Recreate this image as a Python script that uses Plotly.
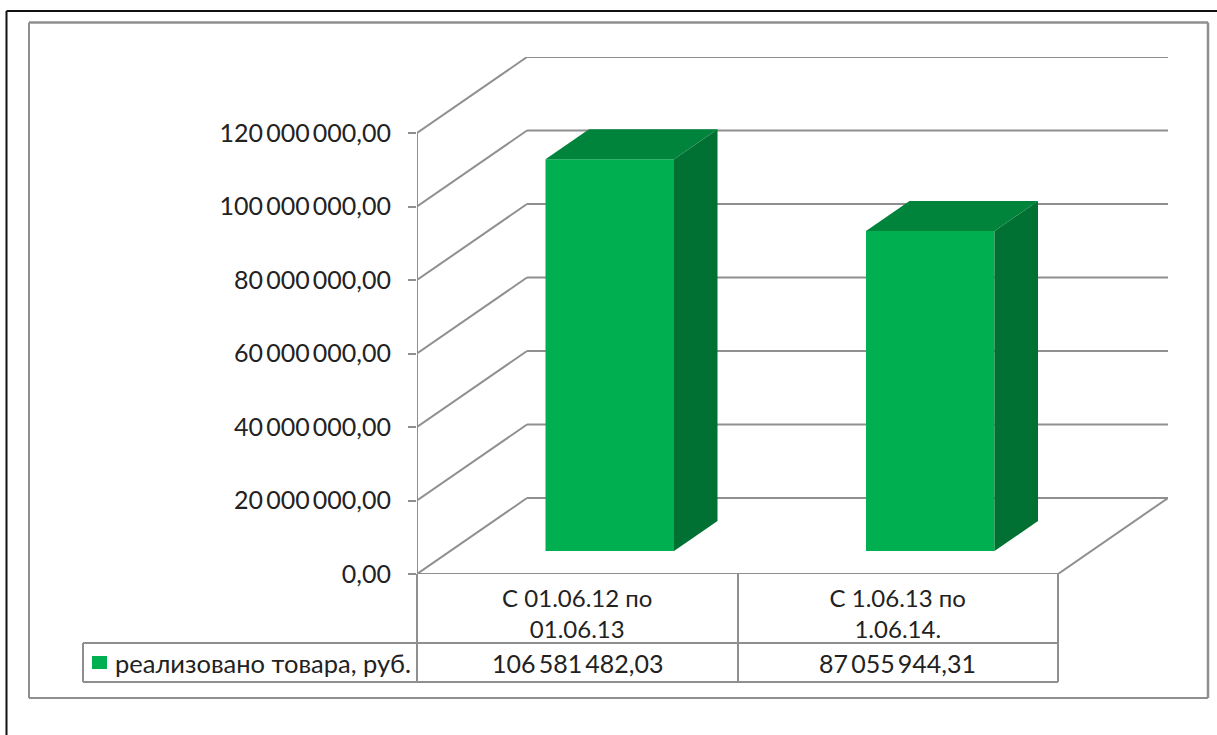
import plotly.graph_objects as go

categories = ["С 01.06.12 по<br>01.06.13", "С 1.06.13 по<br>1.06.14."]
series_name = "реализовано товара, руб."
values = [106581482.03, 87055944.31]
value_labels = ["106\u2009581\u2009482,03", "87\u2009055\u2009944,31"]
tick_values = [0, 20e6, 40e6, 60e6, 80e6, 100e6, 120e6]
tick_labels = ["0,00", "20\u2009000\u2009000,00", "40\u2009000\u2009000,00", "60\u2009000\u2009000,00",
               "80\u2009000\u2009000,00", "100\u2009000\u2009000,00", "120\u2009000\u2009000,00"]

W, H = 1217, 735
L, R, T, B = 417, 1168, 57, 574
CAT_PX = 320.5
PX_PER_VAL = 441 / 120e6
to_x = lambda px: px / CAT_PX
to_y = lambda px: px / PX_PER_VAL
px_paper = lambda px: (px - L) / (R - L)
py_paper = lambda py: (B - py) / (B - T)

WALL_DX, WALL_DY = to_x(110), to_y(76)
BAR_X0, BAR_Y0 = to_x(32.5), to_y(23)
BAR_DX, BAR_DY = to_x(43.5), to_y(30)
BAR_W = to_x(128.5)

GREY = "#8f8f8f"
FRONT, SIDE, TOP = "#00B050", "#007033", "#00843C"
TEXT = "#222222"
FONT = "Lato"
SIZE = 25

fig = go.Figure()

def data_line(x0, y0, x1, y1):
    fig.add_shape(type="line", xref="x", yref="y", layer="below",
                  x0=x0, y0=y0, x1=x1, y1=y1, line=dict(color=GREY, width=2))

# walls and floor, kept beneath the bars
for t in tick_values:
    data_line(0, t, WALL_DX, t + WALL_DY)
    data_line(WALL_DX, t + WALL_DY, 2 + WALL_DX, t + WALL_DY)
data_line(0, 0, 0, tick_values[-1])
data_line(0, 0, 2, 0)
data_line(2, 0, 2 + WALL_DX, WALL_DY)

# bars
centers = [i + 0.5 + BAR_X0 for i in range(len(values))]
for c, v in zip(centers, values):
    x0, x1 = c - BAR_W / 2, c + BAR_W / 2
    top = BAR_Y0 + v
    fig.add_trace(go.Scatter(
        x=[x1, x1 + BAR_DX, x1 + BAR_DX, x1, x1],
        y=[BAR_Y0, BAR_Y0 + BAR_DY, top + BAR_DY, top, BAR_Y0],
        fill="toself", fillcolor=SIDE, mode="none", hoverinfo="skip", showlegend=False))
    fig.add_trace(go.Scatter(
        x=[x0, x0 + BAR_DX, x1 + BAR_DX, x1, x0],
        y=[top, top + BAR_DY, top + BAR_DY, top, top],
        fill="toself", fillcolor=TOP, mode="none", hoverinfo="skip", showlegend=False))
fig.add_trace(go.Bar(x=centers, y=values, base=[BAR_Y0] * len(values), width=BAR_W,
                     marker=dict(color=FRONT, line=dict(width=0)), name=series_name,
                     showlegend=False))

# chart frame, page frame and data table
def line(x0, y0, x1, y1, color=GREY, width=2):
    fig.add_shape(type="line", xref="paper", yref="paper", layer="below",
                  x0=px_paper(x0), y0=py_paper(y0), x1=px_paper(x1), y1=py_paper(y1),
                  line=dict(color=color, width=width))

line(6.5, 11, 1217, 11, "#111111", 2)
line(6.5, 11, 6.5, 735, "#111111", 2)
line(29, 22.5, 1208, 22.5, GREY, 2.5)
line(29, 22.5, 29, 698, GREY, 2)
line(1208, 22.5, 1208, 698, GREY, 2.5)
line(29, 698, 1208, 698, GREY, 2)
line(417, 574, 417, 682)
line(738, 574, 738, 682)
line(1058, 574, 1058, 682)
line(83, 643, 1058, 643)
line(83, 682, 1058, 682)
line(83, 643, 83, 682)

fig.add_shape(type="rect", xref="paper", yref="paper", layer="above",
              x0=px_paper(92), x1=px_paper(107), y0=py_paper(669), y1=py_paper(656),
              fillcolor=FRONT, line=dict(width=0))
fig.add_annotation(xref="paper", yref="paper", x=px_paper(113), y=py_paper(663),
                   xanchor="left", yanchor="middle", showarrow=False, text=series_name,
                   font=dict(family=FONT, size=25.5, color=TEXT))
for i, s in enumerate(value_labels):
    fig.add_annotation(xref="x", yref="paper", x=i + 0.5, y=py_paper(663),
                       xanchor="center", yanchor="middle", showarrow=False, text=s,
                       font=dict(family=FONT, size=SIZE, color=TEXT))

fig.update_layout(
    width=W, height=H, autosize=False,
    margin=dict(l=L, r=W - R, t=T, b=H - B, pad=0),
    paper_bgcolor="white", plot_bgcolor="rgba(0,0,0,0)", showlegend=False,
    xaxis=dict(range=[0, to_x(R - L)], tickmode="array", tickvals=[0.5, 1.5],
               ticktext=categories, ticks="", showgrid=False, zeroline=False, showline=False,
               ticklabelstandoff=8,
               tickfont=dict(family=FONT, size=24, color=TEXT), tickangle=0),
    yaxis=dict(range=[0, to_y(B - T)], tickmode="array", tickvals=tick_values,
               ticktext=tick_labels, ticks="outside", ticklen=8, tickwidth=2, tickcolor=GREY,
               showgrid=False, zeroline=False, showline=False, ticklabelstandoff=12,
               tickfont=dict(family=FONT, size=SIZE, color=TEXT)),
)

fig.write_html("out.html", post_script="document.body.style.margin='0';",
               config={"displayModeBar": False})
